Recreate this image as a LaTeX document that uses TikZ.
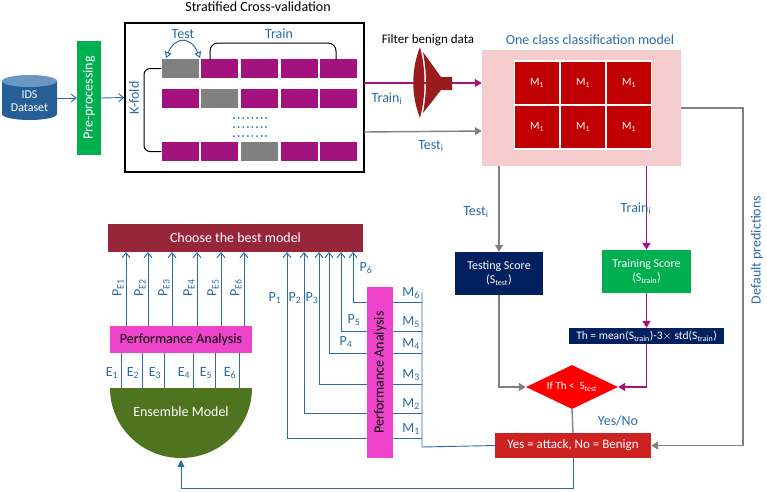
\documentclass[tikz,border=0pt]{standalone}
\usepackage{fontspec}
\setmainfont{Carlito}
\usetikzlibrary{shapes.geometric,arrows.meta}
\definecolor{tb}{HTML}{2A6AA6}
\definecolor{mag}{HTML}{A3127F}
\definecolor{gr}{HTML}{808080}
\definecolor{navy}{HTML}{002060}
\definecolor{gg}{HTML}{00B050}
\definecolor{dred}{HTML}{C00000}
\definecolor{pinkbg}{HTML}{F4CCCC}
\definecolor{pa}{HTML}{EE44CC}
\definecolor{maroon}{HTML}{98263A}
\definecolor{olive}{HTML}{4F7420}
\definecolor{yb}{HTML}{CC2222}
\definecolor{fun}{HTML}{9A1B1B}
\begin{document}
\begin{tikzpicture}[x=1pt,y=-1pt,
  lbl/.style={text=tb,font=\fontsize{14}{15}\selectfont,inner sep=0pt},
  cell/.style={fill=mag,minimum width=37pt,minimum height=19pt,inner sep=0pt,draw=none},
  gcell/.style={fill=gr,minimum width=37pt,minimum height=19pt,inner sep=0pt,draw=none},
  mc/.style={fill=dred,draw=white,line width=1.5pt,minimum width=45pt,minimum height=44pt,text=white,font=\fontsize{11}{12}\selectfont},
  bl/.style={tb,line width=0.9pt},
  ba/.style={tb,line width=0.9pt,-{Straight Barb[length=5pt,width=8pt]}},
  ga/.style={gr,line width=1.4pt,-{Triangle[length=7pt,width=8pt]}},
  ma/.style={mag,line width=1.4pt,-{Triangle[length=7pt,width=8pt]}}]
\useasboundingbox (0,0) rectangle (767,491);
% cylinder
\fill[tb!90!black] (2,81) -- (2,114) arc[start angle=180,end angle=0,x radius=27.5,y radius=6] -- (57,81) -- cycle;
\fill[tb!70] (29.5,81) ellipse[x radius=27.5,y radius=6];
\node[text=white,font=\fontsize{12}{13}\selectfont,align=center] (ids) at (29.5,101) {IDS\\Dataset};
\coordinate (idsr) at (57,98);
\node[fill=gg,minimum width=24pt,minimum height=114pt,inner sep=0pt] (pre) at (89,98) {};
\node[rotate=90,text=white,font=\fontsize{14}{15}\selectfont] (pret) at (89,98) {Pre-processing};
\draw[ba] (idsr) -- (pre.west);
\node[draw=black,line width=1.4pt,minimum width=239pt,minimum height=149pt,inner sep=0pt] (cv) at (244.5,97.5) {};
\draw[ba] (pre.east) -- (cv.west);
\node[font=\fontsize{14}{15}\selectfont] (cvt) at (258,7) {Stratified Cross-validation};
% cells
\foreach \x [count=\i] in {180,219.5,259,299,338.5}{
  \ifnum\i=1 \node[gcell] (a\i) at (\x,68.5) {}; \else \node[cell] (a\i) at (\x,68.5) {}; \fi
  \ifnum\i=2 \node[gcell] (b\i) at (\x,98.5) {}; \else \node[cell] (b\i) at (\x,98.5) {}; \fi
  \ifnum\i=3 \node[gcell] (c\i) at (\x,151.5) {}; \else \node[cell] (c\i) at (\x,151.5) {}; \fi
}
\foreach \y in {118,127,136}{\foreach \k in {0,...,7}{\fill[tb] (234+\k*4.6,\y) circle[radius=1];}}
\draw[black,line width=1pt,rounded corners=6pt] (a1.west) -- (144,68.5) -- (144,151.5) -- (c1.west);
\node[lbl,rotate=90] (kf) at (134,98) {K-fold};
\node[lbl] (tst) at (183,34) {Test};
\node[lbl] (trn) at (279,34) {Train};
\draw[tb,line width=1pt,{Triangle[open,length=6pt,width=7pt]}-{Triangle[open,length=6pt,width=7pt]}] (166,58) .. controls (175,36) and (191,36) .. (200,58);
\draw[black,line width=1pt,rounded corners=8pt] (210,60) -- (210,43) -- (336,43) -- (336,60);
% funnel and flows
\node[font=\fontsize{13}{14}\selectfont] (flt) at (428,40) {Filter benign data};
\node[pinkbg,fill=pinkbg,minimum width=199pt,minimum height=116pt,inner sep=0pt] (occ) at (581.5,108) {};
\node[lbl] (occt) at (590,40) {One class classification model};
\coordinate (trs) at (364,83);
\coordinate (tes) at (364,132);
\draw[ma] (trs) -- (occ.west |- trs);
\draw[ga] (tes) -- (occ.west |- 131,131);
\fill[fun] (420,47) .. controls (411,70) and (411,95) .. (420,118) .. controls (426,95) and (426,70) .. (420,47);
\fill[fun] (423,52) -- (441,77) -- (452,77) -- (452,90) -- (441,90) -- (423,113) .. controls (427,90) and (427,75) .. (423,52);
\node[lbl] (trl) at (387,99) {Train\textsubscript{i}};
\node[lbl] (tel) at (431,146) {Test\textsubscript{i}};
\foreach \x [count=\i] in {537,583,629}{
  \node[mc] (m\i) at (\x,83) {M\textsubscript{1}};
  \node[mc] (n\i) at (\x,127) {M\textsubscript{1}};}
% right column
\node[fill=navy,minimum width=88pt,minimum height=43pt,inner sep=0pt,text=white,align=center,font=\fontsize{12}{14}\selectfont] (ts) at (499,273.5) {Testing Score\\(S\textsubscript{test})};
\node[fill=gg,minimum width=89pt,minimum height=43pt,inner sep=0pt,text=white,align=center,font=\fontsize{12}{14}\selectfont] (tr) at (646.5,271.5) {Training Score\\(S\textsubscript{train})};
\node[fill=navy,minimum width=155pt,minimum height=16pt,inner sep=0pt,text=white,font=\fontsize{11.5}{12}\selectfont] (th) at (646.5,336) {Th = mean(S\textsubscript{train})-3$\times$ std(S\textsubscript{train})};
\node[diamond,fill=red,minimum width=92pt,minimum height=44pt,aspect=2.1,inner sep=0pt,text=white,font=\fontsize{11}{12}\selectfont] (dm) at (572,387) {If Th <\ \ S\textsubscript{test}};
\node[fill=yb,minimum width=156pt,minimum height=25pt,inner sep=0pt,text=white,font=\fontsize{13}{14}\selectfont] (yn) at (573,445.5) {Yes = attack, No = Benign};
\draw[ga] (occ.south -| ts) -- (ts.north);
\draw[ma] (occ.south -| tr) -- (tr.north);
\node[lbl] (tl2) at (476,212) {Test\textsubscript{i}};
\node[lbl] (rl2) at (636,209) {Train\textsubscript{i}};
\draw[ma] (tr.south) -- (th.north);
\draw[ga] (ts.south) |- (dm.west);
\draw[ma] (th.south) |- (dm.east);
\draw[gr,line width=1.4pt] (dm.south) -- (yn.north);
\node[lbl] (ynl) at (618,421) {Yes/No};
\coordinate (dp1) at (743,108);
\draw[ga] (occ.east |- dp1) -- (dp1) |- (yn.east);
\node[lbl,rotate=90] (dpl) at (757,250) {Default predictions};
% left part
\node[fill=maroon,minimum width=255pt,minimum height=28pt,inner sep=0pt,text=white,font=\fontsize{14}{15}\selectfont] (cb) at (235.5,238) {Choose the best model};
\node[fill=pa,minimum width=142pt,minimum height=27pt,inner sep=0pt,font=\fontsize{14}{15}\selectfont] (pal) at (181,339.5) {Performance Analysis};
\fill[olive] (110,388) arc[start angle=180,end angle=0,x radius=71,y radius=70] -- cycle;
\node[text=white,font=\fontsize{14}{15}\selectfont] (ens) at (181,412) {Ensemble Model};
\coordinate (ensb) at (181,460);
\foreach \x [count=\i] in {126,148,172,197,221,244}{
  \draw[ba] (\x,326) -- (\x,252);
  \node[lbl,rotate=90] (pe\i) at (\x-8,288) {P\textsubscript{E\i}};}
\foreach \x [count=\i] in {121,142,164,193,215,239}{
  \draw[bl] (\x,388) -- (\x,353);
  \node[lbl] (e\i) at (\x-9,373) {E\textsubscript{\i}};}
\node[fill=pa,minimum width=26pt,minimum height=171pt,inner sep=0pt] (pav) at (380,372.5) {};
\node[rotate=90,font=\fontsize{14}{15}\selectfont] (pavt) at (380,372.5) {Performance Analysis};
\coordinate (vt) at (422,292);
\coordinate (vb) at (422,447);
\draw[bl] (vt) -- (vb) -- (yn.west);
\foreach \y/\px/\i in {302/353/6,331/341/5,353/329/4,384/319/3,413/304/2,438/287/1}{
  \draw[bl] (393,\y) -- (422,\y);
  \node[lbl] (ml\i) at (411,\y-9) {M\textsubscript{\i}};
  \draw[ba] (367,\y) -- (\px,\y) -- (\px,252);}
\node[lbl] (p6) at (366,268) {P\textsubscript{6}};
\node[lbl] (p5) at (354,320) {P\textsubscript{5}};
\node[lbl] (p4) at (346,342) {P\textsubscript{4}};
\node[lbl] (p1) at (275,298) {P\textsubscript{1}};
\node[lbl] (p2) at (295,298) {P\textsubscript{2}};
\node[lbl] (p3) at (312,298) {P\textsubscript{3}};
\coordinate (bt) at (573,488);
\draw[tb,line width=0.9pt,-{Triangle[length=7pt,width=7pt]}] (yn.south) -- (bt) -| (ensb);
\end{tikzpicture}
\end{document}
